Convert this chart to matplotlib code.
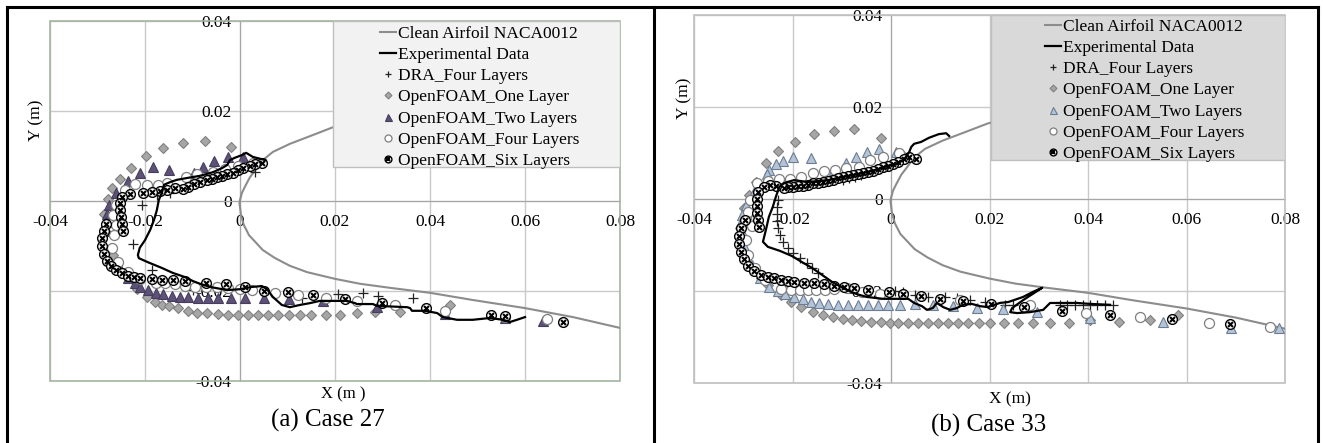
import matplotlib.pyplot as plt
from matplotlib.patches import Rectangle
from matplotlib.lines import Line2D

plt.rcParams["font.family"] = ["Liberation Serif", "DejaVu Serif"]

X_TICKS = [-0.04, -0.02, 0, 0.02, 0.04, 0.06, 0.08]
X_LABELS = ["-0.04", "-0.02", "0", "0.02", "0.04", "0.06", "0.08"]
Y_TICKS = [-0.04, -0.02, 0, 0.02, 0.04]
Y_LABELS = ["-0.04", "-0.02", "0", "0.02", "0.04"]

LABELS = ["Clean Airfoil NACA0012", "Experimental Data", "DRA_Four Layers",
          "OpenFOAM_One Layer", "OpenFOAM_Two Layers", "OpenFOAM_Four Layers",
          "OpenFOAM_Six Layers"]

# clean NACA0012 contour (upper trailing part -> nose -> lower surface)
foil = [(0.0800, 0.0291), (0.0716, 0.0278), (0.0610, 0.0260), (0.0505, 0.0242), (0.0400, 0.0220),
        (0.0295, 0.0193), (0.0196, 0.0164), (0.0147, 0.0144), (0.0105, 0.0127), (0.0069, 0.0109),
        (0.0046, 0.0089), (0.0034, 0.0071), (0.0021, 0.0053), (0.0011, 0.0033), (0.0004, 0.0018),
        (0.0000, 0.0002), (-0.0001, -0.0006), (0.0000, -0.0013), (0.0002, -0.0031), (0.0008, -0.0053),
        (0.0019, -0.0076), (0.0034, -0.0093), (0.0048, -0.0109), (0.0074, -0.0127), (0.0105, -0.0144),
        (0.0141, -0.0158), (0.0200, -0.0173), (0.0253, -0.0184), (0.0316, -0.0193), (0.0400, -0.0204),
        (0.0490, -0.0220), (0.0600, -0.0238), (0.0701, -0.0258), (0.0800, -0.0282)]

# ---- case 27 ----
c27_exp = [(0.0053, 0.0091), (0.0027, 0.0098), (0.0013, 0.0107), (0.0004, 0.0102), (-0.0011, 0.0096),
           (-0.0021, 0.0091), (-0.0027, 0.0080), (-0.0038, 0.0073), (-0.0057, 0.0064), (-0.0084, 0.0056),
           (-0.0112, 0.0051), (-0.0133, 0.0047), (-0.0147, 0.0042), (-0.0160, 0.0036), (-0.0164, 0.0020),
           (-0.0171, 0.0002), (-0.0175, -0.0020), (-0.0181, -0.0042), (-0.0189, -0.0064), (-0.0200, -0.0087),
           (-0.0211, -0.0104), (-0.0215, -0.0120), (-0.0213, -0.0127), (-0.0194, -0.0136), (-0.0164, -0.0149),
           (-0.0141, -0.0160), (-0.0116, -0.0169), (-0.0099, -0.0178), (-0.0084, -0.0184), (-0.0063, -0.0191),
           (-0.0027, -0.0198), (0.0000, -0.0196), (0.0025, -0.0191), (0.0046, -0.0189), (0.0057, -0.0196),
           (0.0069, -0.0213), (0.0088, -0.0231), (0.0105, -0.0236), (0.0126, -0.0231), (0.0147, -0.0227),
           (0.0168, -0.0222), (0.0225, -0.0222), (0.0242, -0.0227), (0.0246, -0.0229), (0.0280, -0.0229),
           (0.0288, -0.0233), (0.0352, -0.0236), (0.0358, -0.0238), (0.0362, -0.0244), (0.0389, -0.0244),
           (0.0415, -0.0249), (0.0427, -0.0258), (0.0457, -0.0264), (0.0490, -0.0264), (0.0526, -0.0260),
           (0.0554, -0.0264), (0.0568, -0.0269), (0.0583, -0.0264), (0.0600, -0.0258)]
c27_dra = [(0.0032, 0.0064), (-0.0147, 0.0018), (-0.0175, 0.0013), (-0.0206, -0.0009), (-0.0225, -0.0096),
           (-0.0185, -0.0153), (-0.0099, -0.0198), (0.0131, -0.0216), (0.0206, -0.0207), (0.0259, -0.0204),
           (0.0291, -0.0211), (0.0364, -0.0216)]
c27_one = [(-0.0019, 0.0120), (-0.0074, 0.0133), (-0.0120, 0.0129), (-0.0162, 0.0118), (-0.0198, 0.0100),
           (-0.0229, 0.0073), (-0.0253, 0.0049), (-0.0269, 0.0029), (-0.0278, 0.0004), (-0.0286, -0.0029),
           (-0.0282, -0.0069), (-0.0267, -0.0120), (-0.0244, -0.0162), (-0.0217, -0.0196), (-0.0196, -0.0213),
           (-0.0179, -0.0224), (-0.0164, -0.0231), (-0.0149, -0.0233), (-0.0131, -0.0238), (-0.0109, -0.0244),
           (-0.0091, -0.0249), (-0.0069, -0.0249), (-0.0046, -0.0251), (-0.0025, -0.0253), (-0.0004, -0.0253),
           (0.0017, -0.0253), (0.0038, -0.0253), (0.0059, -0.0253), (0.0080, -0.0253), (0.0103, -0.0253),
           (0.0126, -0.0253), (0.0149, -0.0253), (0.0181, -0.0253), (0.0211, -0.0253), (0.0246, -0.0249),
           (0.0284, -0.0247), (0.0337, -0.0247), (0.0442, -0.0231)]
c27_two = [(0.0006, 0.0098), (-0.0025, 0.0098), (-0.0055, 0.0089), (-0.0078, 0.0076), (-0.0097, 0.0062),
           (-0.0149, 0.0069), (-0.0183, 0.0076), (-0.0211, 0.0062), (-0.0236, 0.0044), (-0.0261, 0.0018),
           (-0.0276, -0.0009), (-0.0280, -0.0029), (-0.0282, -0.0047), (-0.0280, -0.0067), (-0.0255, -0.0144),
           (-0.0236, -0.0171), (-0.0221, -0.0182), (-0.0211, -0.0191), (-0.0194, -0.0198), (-0.0177, -0.0204),
           (-0.0162, -0.0207), (-0.0143, -0.0211), (-0.0126, -0.0213), (-0.0109, -0.0213), (-0.0088, -0.0216),
           (-0.0067, -0.0216), (-0.0046, -0.0216), (-0.0019, -0.0216), (0.0011, -0.0216), (0.0051, -0.0216),
           (0.0103, -0.0218), (0.0175, -0.0222), (0.0288, -0.0236), (0.0432, -0.0251), (0.0558, -0.0260),
           (0.0638, -0.0267)]
c27_four = [(0.0027, 0.0084), (-0.0004, 0.0078), (-0.0032, 0.0071), (-0.0057, 0.0064), (-0.0091, 0.0060),
            (-0.0114, 0.0053), (-0.0154, 0.0040), (-0.0173, 0.0036), (-0.0196, 0.0036), (-0.0221, 0.0038),
            (-0.0242, 0.0024), (-0.0261, -0.0009), (-0.0267, -0.0031), (-0.0261, -0.0053), (-0.0265, -0.0076),
            (-0.0269, -0.0104), (-0.0257, -0.0136), (-0.0236, -0.0158), (-0.0211, -0.0173), (-0.0177, -0.0182),
            (-0.0158, -0.0182), (-0.0137, -0.0184), (-0.0116, -0.0189), (-0.0095, -0.0191), (-0.0072, -0.0191),
            (-0.0048, -0.0191), (-0.0025, -0.0193), (0.0000, -0.0196), (0.0025, -0.0198), (0.0074, -0.0204),
            (0.0122, -0.0209), (0.0181, -0.0216), (0.0246, -0.0222), (0.0326, -0.0231), (0.0432, -0.0244),
            (0.0558, -0.0258), (0.0646, -0.0262)]
c27_six = [(0.0046, 0.0084), (0.0032, 0.0082), (0.0021, 0.0078), (0.0006, 0.0073), (-0.0004, 0.0069),
           (-0.0015, 0.0062), (-0.0027, 0.0060), (-0.0038, 0.0056), (-0.0048, 0.0053), (-0.0059, 0.0049),
           (-0.0069, 0.0047), (-0.0084, 0.0042), (-0.0097, 0.0038), (-0.0109, 0.0031), (-0.0120, 0.0027),
           (-0.0137, 0.0029), (-0.0154, 0.0024), (-0.0168, 0.0022), (-0.0185, 0.0020), (-0.0204, 0.0018),
           (-0.0232, 0.0016), (-0.0248, 0.0009), (-0.0253, -0.0004), (-0.0253, -0.0020), (-0.0251, -0.0036),
           (-0.0248, -0.0051), (-0.0246, -0.0067), (-0.0282, -0.0051), (-0.0286, -0.0067), (-0.0291, -0.0082),
           (-0.0291, -0.0100), (-0.0286, -0.0118), (-0.0280, -0.0133), (-0.0272, -0.0144), (-0.0261, -0.0153),
           (-0.0248, -0.0160), (-0.0236, -0.0167), (-0.0223, -0.0169), (-0.0211, -0.0171), (-0.0185, -0.0173),
           (-0.0164, -0.0176), (-0.0141, -0.0176), (-0.0116, -0.0178), (-0.0072, -0.0182), (-0.0029, -0.0184),
           (0.0011, -0.0191), (0.0051, -0.0200), (0.0101, -0.0202), (0.0154, -0.0209), (0.0221, -0.0218),
           (0.0299, -0.0227), (0.0392, -0.0238), (0.0528, -0.0253), (0.0558, -0.0256), (0.0680, -0.0269)]

# ---- case 33 ----
c33_exp = [(0.0118, 0.0137), (0.0112, 0.0143), (0.0097, 0.0141), (0.0077, 0.0133), (0.0061, 0.0124),
           (0.0047, 0.0120), (0.0041, 0.0113), (0.0037, 0.0102), (0.0026, 0.0085), (0.0014, 0.0078),
           (-0.0006, 0.0072), (-0.0026, 0.0065), (-0.0047, 0.0059), (-0.0067, 0.0054), (-0.0097, 0.0048),
           (-0.0128, 0.0041), (-0.0169, 0.0037), (-0.0197, 0.0041), (-0.0217, 0.0035), (-0.0227, 0.0026),
           (-0.0234, 0.0004), (-0.0240, -0.0017), (-0.0248, -0.0039), (-0.0254, -0.0067), (-0.0260, -0.0093),
           (-0.0250, -0.0104), (-0.0225, -0.0113), (-0.0201, -0.0124), (-0.0181, -0.0137), (-0.0160, -0.0150),
           (-0.0140, -0.0165), (-0.0120, -0.0180), (-0.0093, -0.0196), (-0.0069, -0.0207), (-0.0049, -0.0213),
           (-0.0016, -0.0217), (0.0035, -0.0217), (0.0047, -0.0226), (0.0063, -0.0233), (0.0073, -0.0241),
           (0.0085, -0.0237), (0.0093, -0.0226), (0.0106, -0.0235), (0.0120, -0.0241), (0.0134, -0.0237),
           (0.0146, -0.0230), (0.0164, -0.0228), (0.0181, -0.0233), (0.0197, -0.0235), (0.0221, -0.0226),
           (0.0238, -0.0224), (0.0268, -0.0213), (0.0288, -0.0202), (0.0307, -0.0193), (0.0268, -0.0220),
           (0.0246, -0.0237), (0.0242, -0.0246), (0.0256, -0.0248), (0.0282, -0.0246), (0.0309, -0.0241),
           (0.0323, -0.0226), (0.0337, -0.0226), (0.0378, -0.0226), (0.0404, -0.0228), (0.0445, -0.0230)]
c33_dra = [(-0.0061, 0.0052), (-0.0073, 0.0048), (-0.0085, 0.0046), (-0.0097, 0.0041), (-0.0229, -0.0002),
           (-0.0231, -0.0017), (-0.0231, -0.0033), (-0.0231, -0.0048), (-0.0229, -0.0063), (-0.0225, -0.0078),
           (-0.0219, -0.0093), (-0.0209, -0.0107), (-0.0199, -0.0117), (-0.0185, -0.0128), (-0.0171, -0.0139),
           (-0.0160, -0.0150), (-0.0148, -0.0161), (0.0008, -0.0200), (0.0024, -0.0202), (0.0049, -0.0209),
           (0.0075, -0.0213), (0.0110, -0.0213), (0.0134, -0.0215), (0.0160, -0.0220), (0.0191, -0.0224),
           (0.0231, -0.0230), (0.0248, -0.0230), (0.0343, -0.0230), (0.0357, -0.0230), (0.0374, -0.0230),
           (0.0390, -0.0230), (0.0404, -0.0230), (0.0418, -0.0230), (0.0435, -0.0230), (0.0451, -0.0230)]
c33_one = [(-0.0020, 0.0133), (-0.0075, 0.0152), (-0.0115, 0.0148), (-0.0156, 0.0141), (-0.0195, 0.0124),
           (-0.0229, 0.0104), (-0.0254, 0.0078), (-0.0274, 0.0037), (-0.0288, 0.0009), (-0.0298, -0.0020),
           (-0.0307, -0.0063), (-0.0305, -0.0100), (-0.0294, -0.0133), (-0.0280, -0.0154), (-0.0264, -0.0172),
           (-0.0250, -0.0187), (-0.0223, -0.0209), (-0.0203, -0.0224), (-0.0183, -0.0235), (-0.0158, -0.0246),
           (-0.0138, -0.0252), (-0.0118, -0.0257), (-0.0097, -0.0261), (-0.0079, -0.0263), (-0.0061, -0.0265),
           (-0.0041, -0.0267), (-0.0020, -0.0267), (-0.0002, -0.0270), (0.0014, -0.0270), (0.0035, -0.0270),
           (0.0055, -0.0270), (0.0075, -0.0270), (0.0095, -0.0270), (0.0116, -0.0270), (0.0136, -0.0270),
           (0.0156, -0.0270), (0.0179, -0.0270), (0.0201, -0.0270), (0.0229, -0.0270), (0.0258, -0.0270),
           (0.0288, -0.0270), (0.0323, -0.0270), (0.0361, -0.0270), (0.0404, -0.0263), (0.0463, -0.0267),
           (0.0526, -0.0263), (0.0583, -0.0252)]
c33_two = [(0.0026, 0.0093), (0.0010, 0.0102), (-0.0024, 0.0109), (-0.0049, 0.0102), (-0.0071, 0.0091),
           (-0.0091, 0.0078), (-0.0116, 0.0063), (-0.0162, 0.0089), (-0.0199, 0.0091), (-0.0219, 0.0083),
           (-0.0234, 0.0076), (-0.0248, 0.0063), (-0.0252, 0.0054), (-0.0276, 0.0020), (-0.0294, -0.0013),
           (-0.0303, -0.0035), (-0.0305, -0.0050), (-0.0305, -0.0067), (-0.0296, -0.0107), (-0.0282, -0.0143),
           (-0.0266, -0.0172), (-0.0248, -0.0191), (-0.0229, -0.0200), (-0.0215, -0.0207), (-0.0197, -0.0213),
           (-0.0179, -0.0217), (-0.0162, -0.0224), (-0.0146, -0.0226), (-0.0128, -0.0228), (-0.0108, -0.0230),
           (-0.0087, -0.0230), (-0.0067, -0.0230), (-0.0047, -0.0230), (-0.0026, -0.0230), (-0.0006, -0.0230),
           (0.0018, -0.0230), (0.0049, -0.0228), (0.0085, -0.0230), (0.0126, -0.0233), (0.0175, -0.0237),
           (0.0227, -0.0239), (0.0296, -0.0246), (0.0404, -0.0259), (0.0552, -0.0267), (0.0690, -0.0280),
           (0.0788, -0.0280)]
c33_four = [(0.0016, 0.0100), (-0.0016, 0.0091), (-0.0043, 0.0085), (-0.0065, 0.0070), (-0.0091, 0.0067),
            (-0.0114, 0.0063), (-0.0136, 0.0061), (-0.0158, 0.0057), (-0.0183, 0.0048), (-0.0205, 0.0043),
            (-0.0227, 0.0043), (-0.0250, 0.0039), (-0.0272, 0.0035), (-0.0286, -0.0002), (-0.0290, -0.0028),
            (-0.0274, -0.0041), (-0.0282, -0.0059), (-0.0294, -0.0089), (-0.0290, -0.0122), (-0.0276, -0.0150),
            (-0.0256, -0.0176), (-0.0223, -0.0196), (-0.0203, -0.0198), (-0.0185, -0.0198), (-0.0169, -0.0198),
            (-0.0152, -0.0198), (-0.0134, -0.0198), (-0.0116, -0.0196), (-0.0089, -0.0193), (-0.0059, -0.0202),
            (-0.0022, -0.0207), (0.0140, -0.0220), (0.0282, -0.0230), (0.0396, -0.0248), (0.0506, -0.0257),
            (0.0646, -0.0270), (0.0770, -0.0278)]
c33_six = [(0.0051, 0.0087), (0.0037, 0.0091), (0.0026, 0.0087), (0.0014, 0.0080), (0.0004, 0.0076),
           (-0.0006, 0.0072), (-0.0016, 0.0070), (-0.0026, 0.0065), (-0.0037, 0.0061), (-0.0047, 0.0059),
           (-0.0057, 0.0057), (-0.0067, 0.0054), (-0.0077, 0.0052), (-0.0087, 0.0050), (-0.0097, 0.0048),
           (-0.0108, 0.0046), (-0.0118, 0.0041), (-0.0128, 0.0039), (-0.0138, 0.0037), (-0.0148, 0.0035),
           (-0.0158, 0.0035), (-0.0169, 0.0030), (-0.0179, 0.0028), (-0.0189, 0.0028), (-0.0199, 0.0026),
           (-0.0209, 0.0026), (-0.0217, 0.0024), (-0.0234, 0.0028), (-0.0246, 0.0030), (-0.0258, 0.0026),
           (-0.0270, 0.0015), (-0.0272, 0.0000), (-0.0272, -0.0015), (-0.0272, -0.0030), (-0.0270, -0.0046),
           (-0.0268, -0.0061), (-0.0296, -0.0046), (-0.0305, -0.0063), (-0.0309, -0.0080), (-0.0309, -0.0098),
           (-0.0305, -0.0115), (-0.0298, -0.0130), (-0.0290, -0.0146), (-0.0278, -0.0157), (-0.0264, -0.0165),
           (-0.0250, -0.0170), (-0.0238, -0.0172), (-0.0223, -0.0176), (-0.0209, -0.0178), (-0.0197, -0.0180),
           (-0.0177, -0.0183), (-0.0156, -0.0183), (-0.0136, -0.0185), (-0.0116, -0.0189), (-0.0095, -0.0191),
           (-0.0075, -0.0193), (-0.0047, -0.0198), (-0.0004, -0.0202), (0.0024, -0.0207), (0.0061, -0.0211),
           (0.0099, -0.0217), (0.0146, -0.0222), (0.0203, -0.0228), (0.0270, -0.0235), (0.0347, -0.0243),
           (0.0445, -0.0252), (0.0571, -0.0261), (0.0688, -0.0272)]


def xy(points):
    return [p[0] for p in points], [p[1] for p in points]


def draw_case(ax, exp, dra, one, two, four, six, two_face, two_edge, frame_col,
              leg_face, leg_rect, leg_anchor):
    ax.set_xlim(-0.04, 0.08)
    ax.set_ylim(-0.04, 0.04)
    ax.set_axisbelow(True)
    ax.set_xticks(X_TICKS)
    ax.set_xticklabels(X_LABELS)
    ax.set_yticks(Y_TICKS)
    ax.set_yticklabels(Y_LABELS)
    ax.grid(True, color="#c9c9c9", lw=1.0)
    ax.tick_params(length=0, labelsize=12.5)
    ax.tick_params(axis="x", pad=9)
    ax.tick_params(axis="y", pad=6)
    for lab in ax.get_yticklabels():
        lab.set_bbox(dict(fc="white", ec="none", pad=0.5))
    ax.spines["top"].set_visible(False)
    ax.spines["right"].set_visible(False)
    for side in ("left", "bottom"):
        ax.spines[side].set_position(("data", 0))
        ax.spines[side].set_color("#a6a6a6")
        ax.spines[side].set_zorder(0.6)
    ax.add_patch(Rectangle((0, 0), 1, 1, transform=ax.transAxes, fill=False,
                           ec=frame_col, lw=1.2, zorder=0.7, clip_on=False))

    h_foil, = ax.plot(*xy(foil), color="#8c8c8c", lw=1.5, zorder=2)
    h_dra, = ax.plot(*xy(dra), ls="none", marker="+", ms=7, mew=0.9, color="#222222", zorder=3)
    h_one, = ax.plot(*xy(one), ls="none", marker="D", ms=5, mfc="#a6a6a6", mec="#808080",
                     mew=0.8, zorder=3)
    h_two, = ax.plot(*xy(two), ls="none", marker="^", ms=7.2, mfc=two_face, mec=two_edge,
                     mew=0.8, zorder=3)
    h_four, = ax.plot(*xy(four), ls="none", marker="o", ms=7.2, mfc="white", mec="#7f7f7f",
                      mew=0.9, zorder=3)
    h_six_o, = ax.plot(*xy(six), ls="none", marker="o", ms=7, mfc="white", mec="black",
                       mew=1.0, zorder=3)
    h_six_x, = ax.plot(*xy(six), ls="none", marker="x", ms=3.6, mec="black", mew=1.5, zorder=3)
    h_exp, = ax.plot(*xy(exp), color="black", lw=1.6, zorder=4)

    ax.add_patch(Rectangle(leg_rect[:2], leg_rect[2], leg_rect[3], fc=leg_face, ec="#bfbfbf",
                           lw=1.0, zorder=5))
    handles = [h_foil, h_exp, h_dra, h_one, h_two, h_four, (h_six_o, h_six_x)]
    leg = ax.legend(handles, LABELS, loc="upper left", bbox_to_anchor=leg_anchor,
                    frameon=False, fontsize=12.5, handlelength=0.9, handletextpad=0.15,
                    labelspacing=0.29, borderpad=0, borderaxespad=0, markerscale=0.7)
    leg.set_zorder(6)


fig = plt.figure(figsize=(13.23, 4.43), dpi=100)
W, H = 1323, 443

ax1 = fig.add_axes([50 / W, 1 - 381 / H, 570 / W, 360 / H])
draw_case(ax1, c27_exp, c27_dra, c27_one, c27_two, c27_four, c27_six,
          "#5d5178", "#463d5e", "#a3b5a3", "#f2f2f2",
          (0.0196, 0.0076, 0.0604, 0.0324), (0.579, 0.987))
ax1.set_ylabel("Y (m)", fontsize=12.5)
ax1.yaxis.set_label_coords(-0.009, 0.725)
ax1.set_xlabel("X (m )", fontsize=12)
ax1.xaxis.set_label_coords(0.514, -0.014)

ax2 = fig.add_axes([694 / W, 1 - 383 / H, 591 / W, 368 / H])
draw_case(ax2, c33_exp, c33_dra, c33_one, c33_two, c33_four, c33_six,
          "#b3c4d8", "#6c7d92", "#bfbfbf", "#d9d9d9",
          (0.0203, 0.0085, 0.0597, 0.0315), (0.594, 0.99))
ax2.set_ylabel("Y (m)", fontsize=12.5)
ax2.yaxis.set_label_coords(-0.002, 0.774)
ax2.set_xlabel("X (m)", fontsize=12.5)
ax2.xaxis.set_label_coords(0.535, -0.022)

fig.text(328 / W, 1 - 420 / H, "(a) Case 27", ha="center", va="center", fontsize=18)
fig.text(989 / W, 1 - 425 / H, "(b) Case 33", ha="center", va="center", fontsize=18)

# panel borders
for x0, y0, x1, y1 in [(7, 7, 1318, 7), (7, 7, 7, 443), (654, 7, 654, 443), (1318, 7, 1318, 443)]:
    fig.add_artist(Line2D([x0 / W, x1 / W], [1 - y0 / H, 1 - y1 / H], color="black", lw=2.2))

fig.savefig("out.png", dpi=100)
